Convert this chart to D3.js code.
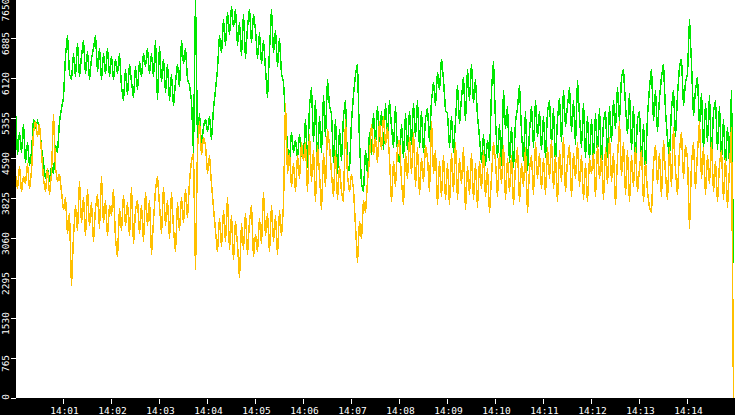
<!DOCTYPE html>
<meta charset="utf-8">
<script src="https://cdn.jsdelivr.net/npm/d3@7"></script>
<style>
  body { margin: 0; background: #000; overflow: hidden; }
  text { font-family: "DejaVu Sans Mono", monospace; font-size: 9.5px; fill: #fff; }
</style>
<body>
<script>

// samples every 2.5 s starting at 14:00:00
var startTime = new Date(2000, 0, 1, 14, 0, 0)
var stepSeconds = 2.5

var xTicks = ["14:01", "14:02", "14:03", "14:04", "14:05", "14:06", "14:07",
              "14:08", "14:09", "14:10", "14:11", "14:12", "14:13", "14:14"]
var yTicks = [0, 765, 1530, 2295, 3060, 3825, 4590, 5355, 6120, 6885, 7650]

// green series (one row per minute)
var greenValues = [
  5520,4650,5100,4700,5250,4500,4900,4450,4700,5350,5150,5300,5200,4800,4500,4200,4400,4150,4450,4300,4850,4700,5300,5550,
  5750,6550,6950,6200,6100,6600,6150,6800,6150,6550,6850,6200,6650,6100,6500,6700,6950,6250,6700,6100,6600,6200,6700,6150,
  6550,6100,6500,6200,6600,5950,5700,6300,5800,6400,6050,5750,6350,5900,6450,6150,6600,6350,6700,6200,6600,6150,6850,5700,
  6750,6050,6500,5850,6400,5700,6200,5600,6050,6400,5950,6850,6400,6700,6100,6000,5700,4700,7650,4900,5450,4800,5200,5350,
  5100,5400,4950,5550,5900,6300,6950,6600,7250,6750,7400,6950,7500,7100,7450,6750,7200,6550,7350,6500,7100,7450,6800,7350,
  7050,6500,7000,6400,6850,6300,5750,6650,7450,6600,7050,6350,6900,6200,6050,5400,4800,4550,5100,4700,4950,4600,5050,4650,
  4600,5350,4400,5600,5950,4900,5700,4450,5400,4700,5800,5000,6100,5600,5450,4500,5350,4300,5150,4550,5400,5700,4450,4350,
  5300,5800,6200,6400,4900,4100,3950,4750,4300,5100,4650,5450,4850,5600,4900,5500,4750,5650,5000,5700,5200,4800,5600,4700,
  4500,5250,4600,5450,4750,5500,4850,5650,5000,5700,4800,5500,4700,5350,5550,4900,5700,6050,5600,6250,5900,6500,6100,5500,
  5450,4800,5400,4700,5300,6000,5250,5750,6150,5300,6300,5700,6400,5650,6100,5400,5000,4500,5050,4450,4950,4550,5900,6450,
  5300,4600,5250,4450,5900,5150,5600,4500,5200,4400,5300,5550,6000,5100,4550,5500,4350,5100,5600,4800,5700,5000,5500,4750,
  5400,4600,5500,5700,4850,5550,4500,5350,5750,4900,5900,5200,5600,5950,5100,5700,4850,6100,5400,4800,5650,4600,5400,4550,
  5350,4550,5450,4700,5550,4450,5300,5500,4600,5600,4900,5700,5150,5950,5300,6150,6300,5600,5050,5850,4750,5600,4500,5350,
  5500,4450,5250,4350,5400,5950,6300,5300,5900,5100,5750,6150,6400,5500,4950,4600,5550,5900,5000,5800,6350,6500,5600,6050,
  6200,7250,6400,5400,5900,6150,5200,5850,4750,5650,4900,5800,4550,5500,5700,4750,5600,4550,5350,4450,5200,4500,5900,2600
]

// yellow series (one row per minute)
var yellowValues = [
  4300,4000,4450,3950,4250,4100,4500,4000,4350,5100,5300,5000,5250,4700,4200,3950,4400,3900,4300,5450,4400,4150,4300,3950,
  3600,3850,3150,3550,2150,3100,3700,3200,4150,3350,3850,3100,4000,3300,3750,3000,3650,3900,3250,4250,3350,3800,3100,3700,
  3500,4000,3050,2700,3650,3200,3900,3300,3750,3100,4050,2950,3600,3800,3150,3700,3000,3950,3300,3800,2750,3400,4000,4250,
  3700,3150,4050,3300,3800,3050,3950,3250,2800,3750,3200,3850,3350,4000,3450,4150,4550,4700,2450,4800,5300,4650,5000,4850,
  4300,4650,4100,3650,3200,2800,3450,2900,3600,3000,3850,2850,3500,2650,3400,2950,2300,3350,2850,3550,2750,3400,3700,2700,
  3150,2800,3450,2950,3950,3100,3550,2800,3700,3000,3500,2750,3600,3100,3700,5650,4300,4700,4050,4500,3950,4650,4200,4900,
  4550,4900,3950,5050,4150,4750,3750,4850,4300,3600,4700,4050,5150,4850,4300,3850,4750,3800,4450,3950,3750,5350,4250,3950,
  4300,4000,3300,2600,3400,3050,3800,3550,4150,4600,5250,4650,5000,4500,5300,4750,5400,4850,5200,4600,3750,4550,4050,4800,
  4950,4150,3700,4700,4200,5000,4300,5100,4050,4800,3900,4600,4150,4850,4600,3950,5300,4300,4750,3700,4550,3850,4650,3800,
  4500,3700,4700,3950,4900,3800,4600,4100,4800,3600,4450,3900,4700,3800,4500,3650,4550,4000,4750,3850,4400,3550,4250,4900,
  4550,3850,4700,4100,4850,3800,4600,3950,4650,3700,4450,4800,3750,4500,4050,4800,3550,4400,4650,3900,4900,4200,4700,4000,
  4600,3900,4800,4200,4950,4000,4650,3750,4750,4150,5000,3950,4550,4850,3850,4700,4200,4900,4050,4650,3800,4500,3750,4600,
  4300,4700,3850,4850,4200,4650,3800,4800,4100,5000,4150,4700,3700,4600,5300,4250,4900,3900,4750,3750,4650,4050,4800,3950,
  4400,4750,3750,4550,3950,3650,3550,4500,4850,4100,4700,3850,4950,4300,3800,4800,4050,5200,4350,3900,4750,5100,4200,4850,
  4600,3250,4500,4900,4000,4700,5300,4200,4800,3900,4650,4100,4900,3950,4550,3750,4500,4750,3800,4600,3650,4400,5200,0
]

var width = 735
var height = 415
var plotLeft = 16
var plotBottom = 398

var svg = d3.select("body").append("svg")
            .attr("width", width)
            .attr("height", height)
            .style("display", "block")

// black frame, white plot area
svg.append("rect").attr("width", width).attr("height", height).attr("fill", "#000")
svg.append("rect").attr("x", plotLeft).attr("y", 0)
   .attr("width", width - plotLeft).attr("height", plotBottom).attr("fill", "#fff")

var x = d3.scaleTime()
          .domain([startTime, d3.timeMinute.offset(startTime, 15)])
          .range([15.5, 735.5])
var y = d3.scaleLinear().domain([0, 7650]).range([398.5, -1.5])

function timeAt(i) { return new Date(startTime.getTime() + i * stepSeconds * 1000) }

var line = d3.line()
             .x(function(d, i) { return x(timeAt(i)) })
             .y(function(d) { return y(d) })

svg.append("clipPath").attr("id", "clip").append("rect")
   .attr("x", plotLeft).attr("y", -2).attr("width", width - plotLeft).attr("height", plotBottom + 2)
var plot = svg.append("g").attr("clip-path", "url(#clip)")

plot.append("path").attr("d", line(greenValues))
    .attr("fill", "none").attr("stroke", "#00e800").attr("stroke-width", 1.5)
    .attr("shape-rendering", "crispEdges")
plot.append("path").attr("d", line(yellowValues))
    .attr("fill", "none").attr("stroke", "#ffc000").attr("stroke-width", 1.5)
    .attr("shape-rendering", "crispEdges")

// x axis
var parseTick = d3.timeParse("%Y-%m-%d %H:%M")
var xTickDates = xTicks.map(function(t) { return parseTick("2000-01-01 " + t) })

svg.selectAll(".xtick").data(xTickDates).enter().append("line")
   .attr("x1", function(d) { return x(d) }).attr("x2", function(d) { return x(d) })
   .attr("y1", 399).attr("y2", 404)
   .attr("stroke", "#fff").attr("shape-rendering", "crispEdges")
svg.selectAll(".xlabel").data(xTickDates).enter().append("text")
   .attr("x", function(d) { return x(d) + 1 })
   .attr("y", 414)
   .attr("text-anchor", "middle")
   .text(function(d, i) { return xTicks[i] })

// y axis
svg.selectAll(".ytick").data(yTicks).enter().append("line")
   .attr("x1", 11).attr("x2", 16)
   .attr("y1", function(d) { return y(d) }).attr("y2", function(d) { return y(d) })
   .attr("stroke", "#fff").attr("shape-rendering", "crispEdges")
svg.selectAll(".ylabel").data(yTicks).enter().append("text")
   .attr("transform", function(d) {
     var c = Math.max(10, Math.min(397, y(d) + 5))
     return "translate(9," + c + ") rotate(-90)"
   })
   .attr("text-anchor", "middle")
   .text(function(d) { return d })

</script>
</body>
